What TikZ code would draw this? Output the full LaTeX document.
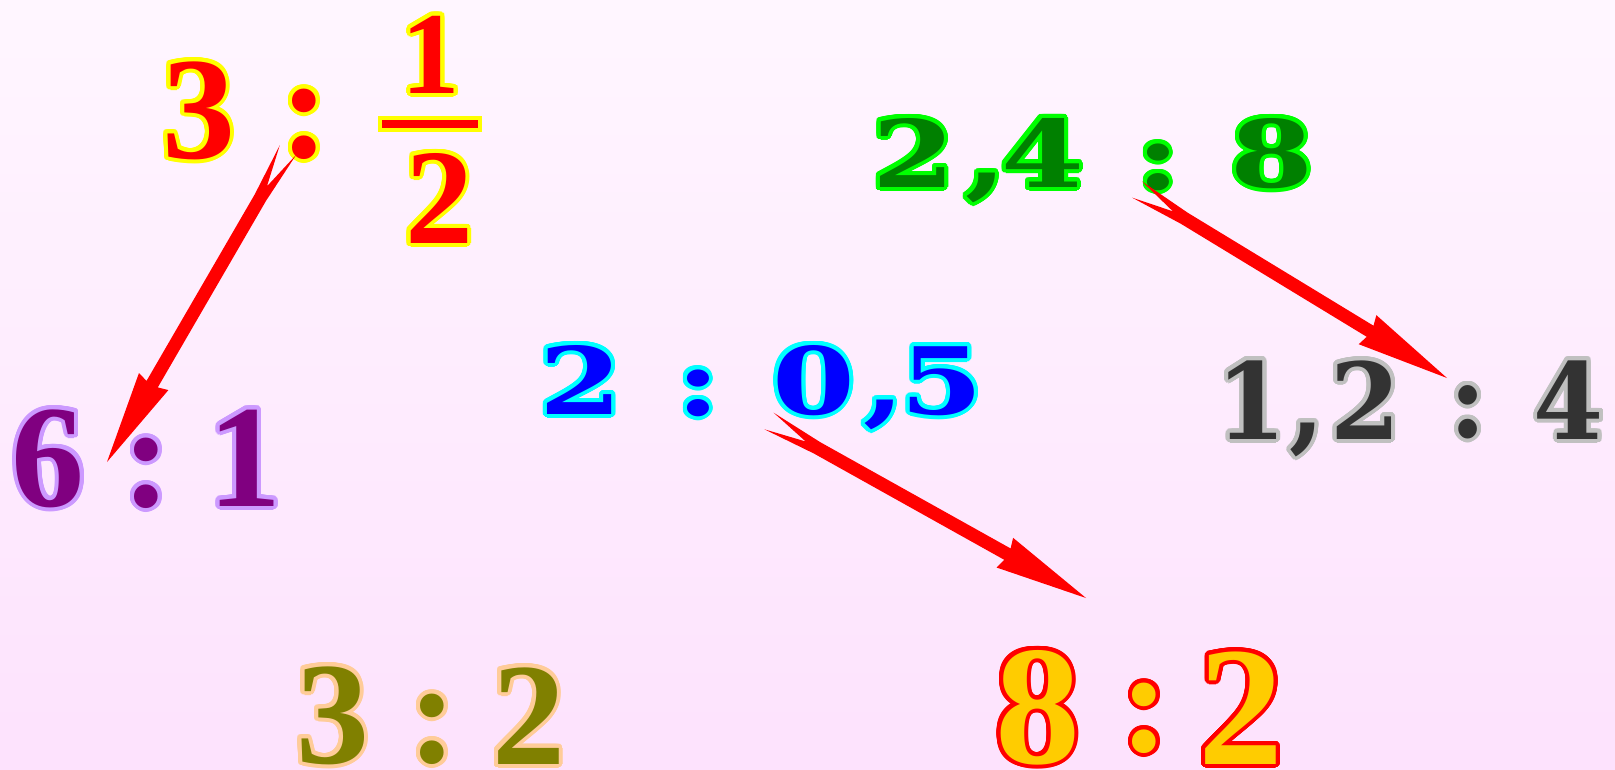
\documentclass[tikz,border=0pt]{standalone}
\usepackage{fontspec}
\newfontfamily\tnr{Liberation Serif Bold}
\newfontfamily\dvs{DejaVu Serif}
\usepackage{contour}
\contourlength{4pt}
\contournumber{32}
\usetikzlibrary{calc}
\definecolor{bgTop}{HTML}{FFF6FF}
\definecolor{bgBot}{HTML}{FDE2FD}
\definecolor{cRed}{HTML}{FF0000}
\definecolor{cYel}{HTML}{FFFF00}
\definecolor{cGrn}{HTML}{008000}
\definecolor{cLim}{HTML}{00FF00}
\definecolor{cBlu}{HTML}{0000FF}
\definecolor{cCya}{HTML}{00FFFF}
\definecolor{cPur}{HTML}{800080}
\definecolor{cLav}{HTML}{CC99FF}
\definecolor{cDrk}{HTML}{333333}
\definecolor{cGry}{HTML}{C0C0C0}
\definecolor{cOli}{HTML}{808000}
\definecolor{cPea}{HTML}{FFCC99}
\definecolor{cGld}{HTML}{FFCC00}
\newcommand\fTR[1]{\tnr\fontsize{#1}{#1}\selectfont}
\newcommand\fDV[1]{\dvs\bfseries\fontsize{#1}{#1}\selectfont}
\newcommand\otxt[3]{{\color{#1}\contour{#2}{#3}}}
\newcommand\bkW[1]{\scalebox{1.28}[1]{\fDV{93}#1}}
\newcommand\bkN[1]{\scalebox{0.95}[1]{\fDV{106}#1}}
\newcommand\blockarrow[2]{%
  \fill[arrowfill]
    ($(#1)!9.5pt!90:(#2)$) --
    ($(#1)!55pt!(#2)!6.5pt!90:(#2)$) --
    ($(#2)!90pt!(#1)!6.5pt!-90:(#1)$) --
    ($(#2)!93pt!(#1)!17pt!-90:(#1)$) --
    (#2) --
    ($(#2)!93pt!(#1)!17pt!90:(#1)$) --
    ($(#2)!90pt!(#1)!6.5pt!90:(#1)$) --
    ($(#1)!55pt!(#2)!6.5pt!-90:(#2)$) --
    ($(#1)!9.5pt!-90:(#2)$) --
    ($(#1)!42pt!(#2)$) -- cycle;}
\tikzset{
  g/.style={inner sep=0pt, outer sep=0pt, anchor=base},
  arrowfill/.style={fill=cRed},
  barbox/.style={draw=cYel, fill=cRed, line width=4pt, minimum width=100pt, minimum height=12pt, inner sep=0pt},
}
\begin{document}
\begin{tikzpicture}[x=1pt,y=-1pt]
\useasboundingbox (0,0) rectangle (1615,769);
\shade[top color=bgTop, bottom color=bgBot] (0,0) rectangle (1615,769);

% 3 : 1/2
\node[g] (a3) at (198.5,158) {\fTR{146}\otxt{cRed}{cYel}{3}};
\node[g] (acol) at (305,157) {\fTR{146}\otxt{cRed}{cYel}{:}};
\node[g] (anum) at (431,93) {\fTR{117}\otxt{cRed}{cYel}{1}};
\node[barbox] (abar) at (430,124) {};
\node[g] (aden) at (439,243) {\fTR{136}\otxt{cRed}{cYel}{2}};

% 2,4 : 8
\node[g] (b2) at (913.5,187) {\otxt{cGrn}{cLim}{\bkW{2}}};
\node[g] (bcm) at (986,187) {\otxt{cGrn}{cLim}{\bkW{,}}};
\node[g] (b4) at (1042.5,187) {\otxt{cGrn}{cLim}{\bkW{4}}};
\node[g] (bcol) at (1158,189) {\otxt{cGrn}{cLim}{\bkW{:}}};
\node[g] (b8) at (1272,187) {\otxt{cGrn}{cLim}{\bkW{8}}};

% 2 : 0,5
\node[g] (c2) at (581,414) {\otxt{cBlu}{cCya}{\bkW{2}}};
\node[g] (ccol) at (698,415) {\otxt{cBlu}{cCya}{\bkW{:}}};
\node[g] (c0) at (813.5,414) {\otxt{cBlu}{cCya}{\bkW{0}}};
\node[g] (ccm) at (884,414) {\otxt{cBlu}{cCya}{\bkW{,}}};
\node[g] (c5) at (942,414) {\otxt{cBlu}{cCya}{\bkW{5}}};

% 6 : 1
\node[g] (d6) at (48.5,506) {\fTR{146}\otxt{cPur}{cLav}{6}};
\node[g] (dcol) at (147,506) {\fTR{146}\otxt{cPur}{cLav}{:}};
\node[g] (d1) at (245,506) {\fTR{146}\otxt{cPur}{cLav}{1}};

% 1,2 : 4
\node[g] (e1) at (1251.5,439) {\otxt{cDrk}{cGry}{\bkN{1}}};
\node[g] (ecm) at (1307,439) {\otxt{cDrk}{cGry}{\bkN{,}}};
\node[g] (e2) at (1365.5,439) {\otxt{cDrk}{cGry}{\bkN{2}}};
\node[g] (ecol) at (1468,437) {\otxt{cDrk}{cGry}{\bkN{:}}};
\node[g] (e4) at (1569,439) {\otxt{cDrk}{cGry}{\bkN{4}}};

% 3 : 2
\node[g] (f3) at (332.5,763) {\fTR{146}\otxt{cOli}{cPea}{3}};
\node[g] (fcol) at (433,762) {\fTR{146}\otxt{cOli}{cPea}{:}};
\node[g] (f2) at (528.5,764) {\fTR{146}\otxt{cOli}{cPea}{2}};

% 8 : 2
\node[g] (g8) at (1037.5,763) {\fTR{170}\otxt{cGld}{cRed}{8}};
\node[g] (gcol) at (1145,751) {\fTR{146}\otxt{cGld}{cRed}{:}};
\node[g] (g2) at (1241,764) {\fTR{170}\otxt{cGld}{cRed}{2}};

% arrows
\coordinate (p1s) at (288,150);
\coordinate (p1t) at (107,462);
\coordinate (p2s) at (1137,189.5);
\coordinate (p2t) at (1447,378);
\coordinate (p3s) at (769,421);
\coordinate (p3t) at (1086,598);
\blockarrow{p1s}{p1t}
\blockarrow{p2s}{p2t}
\blockarrow{p3s}{p3t}
\end{tikzpicture}
\end{document}
